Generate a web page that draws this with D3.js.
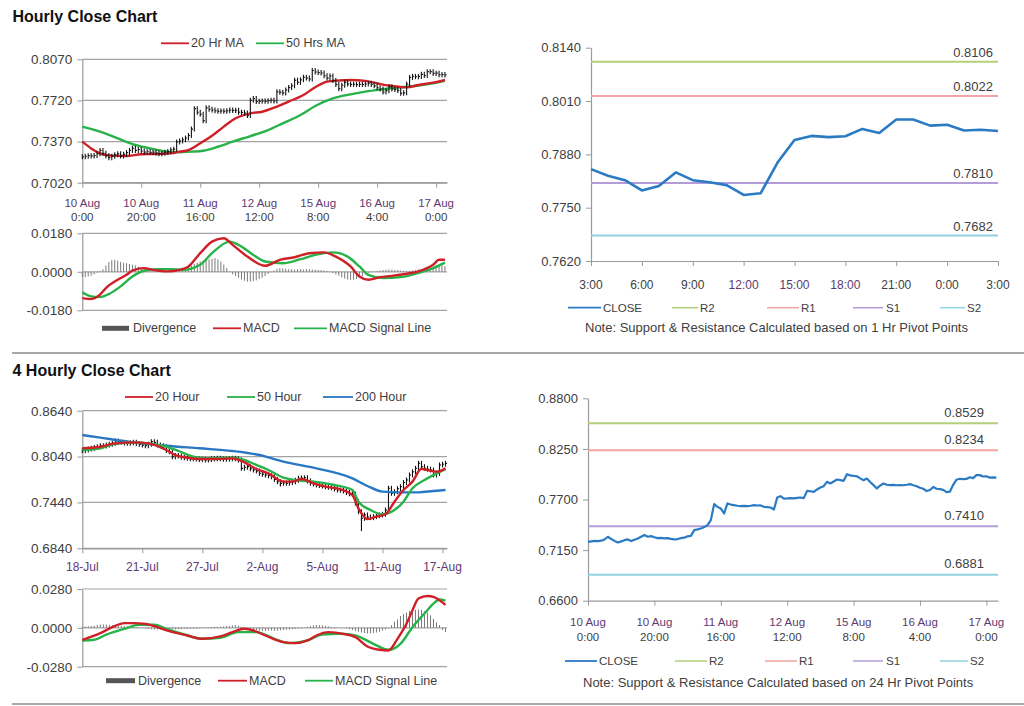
<!DOCTYPE html>
<html><head><meta charset="utf-8">
<script src="https://cdn.jsdelivr.net/npm/d3@7"></script>
<style>
body{margin:0;background:#fff;}
svg{display:block;font-family:"Liberation Sans",Arial,sans-serif;}
</style></head><body>
<svg id="c" width="1024" height="706"></svg>
<script>
// ---------------- DATA ----------------
// Hourly closes, 10 Aug 0:00 -> 17 Aug 3:00 (124 bars)
const hourlyClose = [
0.7240,0.7245,0.7250,0.7248,0.7252,0.7266,0.7295,0.7270,0.7250,0.7233,
0.7245,0.7258,0.7266,0.7248,0.7262,0.7276,0.7295,0.7313,0.7295,0.7302,
0.7290,0.7280,0.7283,0.7278,0.7280,0.7272,0.7266,0.7270,0.7280,0.7285,
0.7300,0.7305,0.7367,0.7375,0.7385,0.7400,0.7421,0.7476,0.7650,0.7620,
0.7602,0.7548,0.7657,0.7645,0.7638,0.7632,0.7628,0.7630,0.7628,0.7632,
0.7638,0.7635,0.7636,0.7620,0.7618,0.7613,0.7591,0.7722,0.7736,0.7710,
0.7712,0.7715,0.7712,0.7718,0.7722,0.7715,0.7794,0.7790,0.7783,0.7809,
0.7830,0.7845,0.7892,0.7874,0.7895,0.7917,0.7910,0.7903,0.7975,0.7962,
0.7957,0.7953,0.7930,0.7910,0.7928,0.7890,0.7856,0.7820,0.7850,0.7874,
0.7860,0.7856,0.7858,0.7855,0.7857,0.7855,0.7860,0.7867,0.7855,
0.7844,0.7828,0.7817,0.7792,0.7803,0.7836,0.7817,0.7812,0.7805,0.7781,
0.7785,0.7860,0.7915,0.7925,0.7922,0.7924,0.7942,0.7932,0.7965,0.7965,
0.7950,0.7952,0.7938,0.7940,0.7937];
const hourlyTickIdx = [0,20,40,60,80,100,120];
const hourlyTickDates = ["10 Aug","10 Aug","11 Aug","12 Aug","15 Aug","16 Aug","17 Aug"];
const hourlyTickTimes = ["0:00","20:00","16:00","12:00","8:00","4:00","0:00"];
const hourlyPriceTicks = [0.7020,0.7370,0.7720,0.8070];
const ma20Hr = [[0,0.7369],[3,0.7312],[6,0.7270],[10,0.7250],[15,0.7247],[20,0.7262],[25,0.7264],[30,0.7270],[33,0.7284],[36,0.7298],[40,0.7355],[44,0.7420],[48,0.7497],[52,0.7568],[57,0.7610],[61,0.7624],[66,0.7667],[70,0.7710],[75,0.7766],[79,0.7832],[83,0.7880],[87,0.7890],[91,0.7894],[96,0.7886],[101,0.7860],[105,0.7843],[110,0.7832],[114,0.7851],[119,0.7871],[123,0.7894]];
const ma50Hr = [[0,0.7497],[6,0.7454],[12,0.7397],[17,0.7349],[23,0.7312],[29,0.7284],[33,0.7278],[37,0.7284],[41,0.7292],[46,0.7326],[51,0.7369],[57,0.7417],[63,0.7468],[68,0.7525],[74,0.7596],[79,0.7673],[85,0.7738],[91,0.7772],[96,0.7795],[102,0.7815],[108,0.7832],[113,0.7843],[119,0.7866],[123,0.7886]];
const macdHr = [[0,-0.0123],[3,-0.0127],[6,-0.0107],[8,-0.0076],[12,-0.0037],[15,-0.0014],[17,0.0006],[21,0.0017],[24,0.0009],[29,0.0002],[33,0.0009],[36,0.0025],[40,0.0087],[44,0.0141],[48,0.0157],[51,0.0126],[56,0.0071],[62,0.0028],[67,0.0056],[72,0.0068],[77,0.0087],[82,0.0091],[86,0.0071],[91,0.0025],[94,-0.0022],[97,-0.0037],[101,-0.0025],[105,-0.0019],[110,-0.0009],[114,0.0002],[119,0.0033],[121,0.0056],[123,0.0056]];
const signalHr = [[0,-0.0096],[3,-0.0115],[6,-0.0118],[9,-0.0104],[13,-0.0068],[17,-0.0022],[21,0.0005],[25,0.0012],[30,0.0012],[34,0.0009],[40,0.0033],[44,0.0087],[50,0.0141],[53,0.0126],[58,0.0079],[62,0.0048],[68,0.0040],[74,0.0059],[79,0.0079],[85,0.0091],[90,0.0071],[94,0.0025],[97,-0.0014],[102,-0.0029],[108,-0.0025],[113,-0.0009],[119,0.0017],[123,0.0043]];
const divergenceHr = [
-0.0025,-0.0025,-0.0022,-0.0018,-0.0012,-0.0004,0.0004,0.0012,
0.0030,0.0045,0.0055,0.0056,0.0052,0.0046,0.0042,0.0040,0.0036,0.0033,0.0030,
0.0024,0.0018,0.0015,0.0012,0.0010,0.0009,0.0008,0.0006,0.0005,0.0004,0.0003,
0.0003,0.0004,0.0006,0.0012,0.0018,0.0022,0.0026,0.0030,
0.0036,0.0042,0.0048,0.0052,0.0056,0.0058,0.0060,0.0064,0.0058,0.0048,0.0034,0.0018,
0.0002,-0.0012,-0.0020,-0.0028,-0.0036,-0.0042,-0.0046,-0.0046,-0.0044,-0.0040,
-0.0034,-0.0028,-0.0020,-0.0010,-0.0002,0.0006,0.0014,0.0017,0.0016,0.0014,0.0012,
0.0012,0.0011,0.0012,0.0012,0.0011,0.0012,0.0012,0.0011,0.0010,0.0009,0.0008,0.0006,0.0004,
0.0001,-0.0006,-0.0012,-0.0018,-0.0026,-0.0032,-0.0036,-0.0038,-0.0037,-0.0034,-0.0028,-0.0020,
-0.0012,-0.0006,-0.0002,0.0002,0.0004,0.0006,0.0008,0.0010,0.0011,0.0010,0.0009,0.0008,
0.0006,0.0005,0.0004,0.0005,0.0007,0.0009,0.0011,0.0013,0.0015,0.0017,0.0018,0.0020,
0.0024,0.0028,0.0030,0.0026];
const macdHrTicks = [-0.018,0,0.018];

// Last 24 hours (3:00 -> 3:00) used by the 1 Hr pivot chart
const lastDayStart = 99;
const lastDayTickIdx = [0,3,6,9,12,15,18,21,24];
const lastDayTickLabels = ["3:00","6:00","9:00","12:00","15:00","18:00","21:00","0:00","3:00"];
const lastDayPriceTicks = [0.7620,0.7750,0.7880,0.8010,0.8140];
const pivotNames = ["R2","R1","S1","S2"];
const pivot1Hr = [0.8106,0.8022,0.7810,0.7682];
const pivot24Hr = [0.8529,0.8234,0.7410,0.6881];
const pivot24PriceTicks = [0.6600,0.7150,0.7700,0.8250,0.8800];

// 4-hourly closes (122 bars)
const fourHourClose = [
0.8117,0.8125,0.8140,0.8148,0.8160,0.8170,0.8183,0.8178,0.8190,0.8200,
0.8215,0.8243,0.8230,0.8226,0.8218,0.8213,0.8220,0.8226,0.8210,0.8200,
0.8190,0.8183,0.8200,0.8235,0.8226,0.8191,0.8180,0.8169,0.8120,0.8104,
0.8039,0.8055,0.8047,0.8030,0.8025,0.8017,0.8010,0.8015,0.8008,0.8000,
0.8005,0.7995,0.8000,0.8010,0.8012,0.8017,0.8010,0.8005,0.8008,0.8012,
0.8017,0.8010,0.7995,0.7886,0.7900,0.7908,0.7880,0.7864,0.7850,0.7821,
0.7810,0.7799,0.7790,0.7777,0.7740,0.7710,0.7690,0.7695,0.7690,0.7700,
0.7712,0.7730,0.7755,0.7760,0.7764,0.7720,0.7690,0.7680,0.7668,0.7660,
0.7655,0.7645,0.7640,0.7633,0.7615,0.7603,0.7598,0.7590,0.7570,0.7555,
0.7546,0.7450,0.7319,0.7232,0.7276,0.7250,0.7241,0.7255,0.7267,0.7275,
0.7285,0.7341,0.7625,0.7560,0.7581,0.7620,0.7646,0.7700,0.7734,0.7799,
0.7840,0.7886,0.7951,0.7908,0.7886,0.7875,0.7864,0.7799,0.7821,0.7930,
0.7940,0.7951];
const fourHourSpikeLows = [[93,0.7065],[66,0.7650],[91,0.7400]];
const fourHourTickIdx = [0,20,40,60,80,100,120];
const fourHourTickLabels = ["18-Jul","21-Jul","27-Jul","2-Aug","5-Aug","11-Aug","17-Aug"];
const fourHourPriceTicks = [0.6840,0.7440,0.8040,0.8640];
const ma20Hour = [[0,0.8148],[6,0.8169],[11,0.8213],[17,0.8226],[22,0.8213],[28,0.8126],[31,0.8060],[35,0.8026],[39,0.8008],[45,0.8008],[50,0.8017],[54,0.7965],[58,0.7877],[62,0.7821],[67,0.7712],[70,0.7712],[73,0.7747],[77,0.7690],[81,0.7646],[86,0.7612],[90,0.7537],[92,0.7363],[95,0.7224],[98,0.7254],[101,0.7285],[104,0.7450],[107,0.7603],[110,0.7712],[113,0.7880],[115,0.7864],[118,0.7842],[121,0.7886]];
const ma50Hour = [[0,0.8126],[6,0.8148],[10,0.8200],[17,0.8226],[22,0.8213],[28,0.8169],[32,0.8113],[37,0.8039],[41,0.8017],[50,0.8026],[54,0.7995],[58,0.7930],[62,0.7864],[67,0.7764],[71,0.7734],[77,0.7712],[84,0.7668],[90,0.7603],[92,0.7450],[96,0.7341],[100,0.7285],[104,0.7341],[107,0.7450],[110,0.7625],[114,0.7734],[117,0.7799],[121,0.7877]];
const ma200Hour = [[0,0.8322],[6,0.8287],[17,0.8226],[28,0.8182],[39,0.8148],[50,0.8113],[59,0.8060],[67,0.7973],[78,0.7886],[90,0.7755],[95,0.7655],[100,0.7581],[106,0.7572],[112,0.7572],[117,0.7590],[121,0.7603]];
const macd4H = [[0,-0.0086],[6,-0.0038],[10,0.0005],[14,0.0034],[17,0.0034],[21,0.0029],[25,0.0005],[29,-0.0024],[35,-0.0055],[40,-0.0079],[46,-0.0062],[50,-0.0031],[54,-0.0007],[57,-0.0019],[61,-0.0055],[67,-0.0103],[71,-0.0110],[75,-0.0091],[78,-0.0055],[82,-0.0031],[87,-0.0043],[91,-0.0067],[95,-0.0134],[99,-0.0158],[102,-0.0163],[105,-0.0079],[108,0.0029],[110,0.0127],[112,0.0211],[115,0.0230],[117,0.0223],[119,0.0199],[121,0.0165]];
const signal4H = [[0,-0.0091],[4,-0.0086],[8,-0.0048],[14,-0.0007],[19,0.0022],[24,0.0022],[28,-0.0007],[34,-0.0048],[40,-0.0079],[46,-0.0072],[52,-0.0031],[58,-0.0031],[64,-0.0079],[69,-0.0110],[75,-0.0091],[80,-0.0048],[86,-0.0043],[91,-0.0055],[97,-0.0115],[102,-0.0158],[106,-0.0115],[110,0.0005],[114,0.0103],[117,0.0175],[119,0.0204],[121,0.0196]];
const divergence4H = [
0.0010,0.0010,0.0012,0.0014,0.0016,
0.0020,0.0024,0.0025,0.0024,0.0022,0.0020,
0.0018,0.0017,0.0016,0.0014,0.0012,0.0010,
0.0006,0.0004,0.0002,0.0000,-0.0004,
-0.0008,-0.0010,-0.0012,-0.0012,-0.0013,-0.0012,-0.0012,-0.0011,-0.0012,-0.0011,-0.0010,-0.0010,-0.0008,-0.0008,
-0.0007,-0.0006,-0.0005,-0.0004,-0.0002,0.0002,
0.0004,0.0006,0.0008,0.0008,0.0009,0.0010,0.0012,0.0014,0.0018,0.0020,0.0016,
0.0008,0.0002,-0.0004,-0.0010,-0.0014,
-0.0018,-0.0020,-0.0022,-0.0022,-0.0020,-0.0020,-0.0022,-0.0020,-0.0018,-0.0016,-0.0014,-0.0012,-0.0010,-0.0008,-0.0006,-0.0004,
0.0002,0.0008,0.0014,0.0018,0.0020,0.0020,0.0018,0.0014,0.0010,
0.0006,0.0004,0.0002,0.0001,0.0000,-0.0004,-0.0010,
-0.0016,-0.0022,-0.0028,-0.0034,-0.0038,-0.0040,-0.0040,-0.0038,-0.0034,-0.0028,-0.0020,-0.0012,
-0.0004,0.0020,0.0045,0.0060,0.0085,0.0100,0.0110,
0.0122,0.0128,0.0130,0.0132,0.0130,0.0120,0.0110,0.0090,
0.0065,0.0040,0.0020,-0.0015,-0.0030];
const macd4HTicks = [-0.028,0,0.028];

// ---------------- STYLE ----------------
const C = {red:"#cf2027", green:"#27b24a", blue:"#2878c4", grid:"#a3a3a3", axis:"#9a9a9a",
  text:"#404040", date:"#5e3a70", close:"#2a7ac4", div:"#7a7a7a",
  R2:"#b2d07a", R1:"#f2a3a3", S1:"#b49cd8", S2:"#90d2e2"};
const pivotColors = [C.R2, C.R1, C.S1, C.S2];
const svg = d3.select("#c");
const fmt4 = d => d.toFixed(4);

function styleAxis(g, fs){
  g.select(".domain").attr("stroke", C.axis).attr("stroke-width",1.2);
  g.selectAll(".tick line").attr("stroke", C.axis);
  g.selectAll(".tick text").attr("fill", C.text).style("font-size", fs+"px")
    .style("font-family","'Liberation Sans',Arial,sans-serif");
}
function grid(g, x, y, ticks){
  g.append("g").selectAll("line").data(ticks).join("line")
    .attr("x1", x.range()[0]).attr("x2", x.range()[1])
    .attr("y1", d=>y(d)).attr("y2", d=>y(d))
    .attr("stroke", C.grid).attr("stroke-width",1.2);
}
function yAxisLeft(g, x, y, ticks, fs){
  const a = g.append("g").attr("transform",`translate(${x.range()[0]},0)`)
    .call(d3.axisLeft(y).tickValues(ticks).tickFormat(fmt4).tickSize(5).tickSizeOuter(0).tickPadding(5));
  styleAxis(a, fs);
  return a;
}
function xAxisTicks(g, x, yPos, ticks){
  const a = g.append("g").attr("transform",`translate(0,${yPos})`)
    .call(d3.axisBottom(x).tickValues(ticks).tickFormat("").tickSize(5).tickSizeOuter(0));
  styleAxis(a, 11);
  return a;
}
function twoLineLabels(g, x, ticks, l1, l2, y1, y2){
  const t = g.append("g").selectAll("text").data(ticks).join("text")
    .attr("text-anchor","middle").style("font-size","11.5px");
  t.append("tspan").attr("x", d=>x(d)).attr("y", y1).attr("fill", C.date).text((d,i)=>l1[i]);
  t.append("tspan").attr("x", d=>x(d)).attr("y", y2).attr("fill", C.text).text((d,i)=>l2[i]);
}
function pairLine(g, x, y, data, color, w){
  g.append("path").datum(data).attr("fill","none").attr("stroke",color).attr("stroke-width",w)
    .attr("stroke-linejoin","round")
    .attr("d", d3.line().x(d=>x(d[0])).y(d=>y(d[1])).curve(d3.curveMonotoneX));
}
function ohlc(g, x, y, closes){
  const bars = closes.map((c,i)=>({i, o: i>0?closes[i-1]:c, c}));
  g.append("g").selectAll("line").data(bars).join("line")
    .attr("x1", d=>x(d.i)).attr("x2", d=>x(d.i))
    .attr("y1", d=>y(Math.max(d.o,d.c))-2.5).attr("y2", d=>y(Math.min(d.o,d.c))+2.5)
    .attr("stroke","#111").attr("stroke-width",1.1);
  g.append("g").selectAll("line").data(bars).join("line")
    .attr("x1", d=>x(d.i)).attr("x2", d=>x(d.i)+1.6)
    .attr("y1", d=>y(d.c)).attr("y2", d=>y(d.c))
    .attr("stroke","#111").attr("stroke-width",1.1);
}
function divBars(g, x, y, vals){
  g.append("g").selectAll("line").data(vals).join("line")
    .attr("x1",(d,i)=>x(i)).attr("x2",(d,i)=>x(i))
    .attr("y1", y(0)).attr("y2", d=>y(d))
    .attr("stroke", C.div).attr("stroke-width",1);
}
function legendLine(g, x1, x2, y, color, label, w, tx, fs){
  g.append("line").attr("x1",x1).attr("x2",x2).attr("y1",y).attr("y2",y).attr("stroke",color).attr("stroke-width",w);
  g.append("text").attr("x",tx).attr("y",y+4).attr("fill",C.text).style("font-size",fs+"px").text(label);
}
function legendSwatch(g, x1, x2, y, label, tx, fs){
  g.append("rect").attr("x",x1).attr("y",y-2.5).attr("width",x2-x1).attr("height",5).attr("fill","#555");
  g.append("text").attr("x",tx).attr("y",y+4).attr("fill",C.text).style("font-size",fs+"px").text(label);
}

// ---------------- TITLES & SEPARATORS ----------------
svg.append("text").attr("x",12.5).attr("y",22).style("font-size","16px").style("font-weight","bold").attr("fill","#111").text("Hourly Close Chart");
svg.append("text").attr("x",12.5).attr("y",376).style("font-size","16px").style("font-weight","bold").attr("fill","#111").text("4 Hourly Close Chart");
svg.append("rect").attr("x",12).attr("y",352).attr("width",1012).attr("height",2).attr("fill","#a8a8a8");
svg.append("rect").attr("x",12).attr("y",703).attr("width",1012).attr("height",2).attr("fill","#a8a8a8");

// ---------------- HOURLY PRICE ----------------
{
  const g = svg.append("g");
  const x = d3.scaleLinear().domain([0,123.7]).range([82.3,447]);
  const y = d3.scaleLinear().domain([0.7020,0.8070]).range([182.7,59.3]);
  grid(g, x, y, hourlyPriceTicks);
  yAxisLeft(g, x, y, hourlyPriceTicks, 13.5);
  xAxisTicks(g, x, y(0.7020), hourlyTickIdx);
  twoLineLabels(g, x, hourlyTickIdx, hourlyTickDates, hourlyTickTimes, 206.5, 221);
  pairLine(g, x, y, ma50Hr, C.green, 2.4);
  pairLine(g, x, y, ma20Hr, C.red, 2.4);
  ohlc(g, x, y, hourlyClose);
  legendLine(g, 161, 189, 43.3, C.red, "20 Hr MA", 1.8, 191, 12.5);
  legendLine(g, 256, 284, 43.3, C.green, "50 Hrs MA", 1.8, 286, 12.5);
}
// ---------------- HOURLY MACD ----------------
{
  const g = svg.append("g");
  const x = d3.scaleLinear().domain([0,123.7]).range([82.3,447]);
  const y = d3.scaleLinear().domain([-0.018,0.018]).range([310.3,233.3]);
  grid(g, x, y, macdHrTicks);
  yAxisLeft(g, x, y, macdHrTicks, 13.5);
  divBars(g, x, y, divergenceHr);
  pairLine(g, x, y, signalHr, C.green, 2.4);
  pairLine(g, x, y, macdHr, C.red, 2.4);
  legendSwatch(g, 102, 129, 328.3, "Divergence", 133, 12.5);
  legendLine(g, 213, 241, 328.3, C.red, "MACD", 1.8, 243, 12.5);
  legendLine(g, 294, 327, 328.3, C.green, "MACD  Signal Line", 1.8, 329, 12.5);
}
// ---------------- 1 HR PIVOT ----------------
{
  const g = svg.append("g");
  const lastDay = hourlyClose.slice(lastDayStart);
  const x = d3.scaleLinear().domain([0,24]).range([591,998]);
  const y = d3.scaleLinear().domain([0.7620,0.8140]).range([261,47.7]);
  yAxisLeft(g, x, y, lastDayPriceTicks, 13);
  xAxisTicks(g, x, 261, lastDayTickIdx);
  g.append("g").selectAll("text").data(lastDayTickIdx).join("text")
    .attr("x", d=>x(d)).attr("y", 288.5).attr("text-anchor","middle").style("font-size","12px")
    .attr("fill", (d,i)=> (i>=3 && i<=5) ? C.date : C.text).text((d,i)=>lastDayTickLabels[i]);
  g.append("g").selectAll("line").data(pivot1Hr).join("line")
    .attr("x1", x(0)).attr("x2", x(24)).attr("y1", d=>y(d)).attr("y2", d=>y(d))
    .attr("stroke", (d,i)=>pivotColors[i]).attr("stroke-width",2);
  g.append("g").selectAll("text").data(pivot1Hr).join("text")
    .attr("x", 993).attr("y", d=>y(d)-5).attr("text-anchor","end").style("font-size","13px")
    .attr("fill", C.text).text(d=>d.toFixed(4));
  g.append("path").datum(lastDay).attr("fill","none").attr("stroke",C.close).attr("stroke-width",2.6)
    .attr("stroke-linejoin","round").attr("d", d3.line().x((d,i)=>x(i)).y(d=>y(d)));
  const ly = 307.7;
  legendLine(g, 568, 601, ly, C.close, "CLOSE", 1.8, 603, 11.5);
  const lx = [[672,698,700],[767,799,801],[853,883,886],[940,965,967]];
  pivotNames.forEach((n,i)=>legendLine(g, lx[i][0], lx[i][1], ly, pivotColors[i], n, 1.5, lx[i][2], 11.5));
  g.append("text").attr("x",585).attr("y",331.7).attr("fill",C.text).style("font-size","13px")
    .text("Note: Support & Resistance Calculated based on 1 Hr Pivot Points");
}
// ---------------- 4 HOURLY PRICE ----------------
{
  const g = svg.append("g");
  const x = d3.scaleLinear().domain([0,121.5]).range([82.3,447]);
  const y = d3.scaleLinear().domain([0.6840,0.8640]).range([548.3,410.7]);
  grid(g, x, y, fourHourPriceTicks);
  yAxisLeft(g, x, y, fourHourPriceTicks, 13.5);
  xAxisTicks(g, x, y(0.6840), fourHourTickIdx);
  g.append("g").selectAll("text").data(fourHourTickIdx).join("text")
    .attr("x", d=>x(d)).attr("y", 570.5).attr("text-anchor","middle").style("font-size","12px")
    .attr("fill", C.date).text((d,i)=>fourHourTickLabels[i]);
  ohlc(g, x, y, fourHourClose);
  g.append("g").selectAll("line").data(fourHourSpikeLows).join("line")
    .attr("x1", d=>x(d[0])).attr("x2", d=>x(d[0]))
    .attr("y1", d=>y(fourHourClose[d[0]])).attr("y2", d=>y(d[1]))
    .attr("stroke","#111").attr("stroke-width",1.1);
  pairLine(g, x, y, ma200Hour, C.blue, 2.4);
  pairLine(g, x, y, ma50Hour, C.green, 2.4);
  pairLine(g, x, y, ma20Hour, C.red, 2.4);
  legendLine(g, 125, 153, 397, C.red, "20 Hour", 1.8, 155, 12.5);
  legendLine(g, 227, 255, 397, C.green, "50 Hour", 1.8, 257, 12.5);
  legendLine(g, 323, 353, 397, C.blue, "200 Hour", 1.8, 355, 12.5);
}
// ---------------- 4 HOURLY MACD ----------------
{
  const g = svg.append("g");
  const x = d3.scaleLinear().domain([0,121.5]).range([82.3,447]);
  const y = d3.scaleLinear().domain([-0.028,0.028]).range([666.7,589]);
  grid(g, x, y, macd4HTicks);
  yAxisLeft(g, x, y, macd4HTicks, 13.5);
  divBars(g, x, y, divergence4H);
  pairLine(g, x, y, signal4H, C.green, 2.4);
  pairLine(g, x, y, macd4H, C.red, 2.4);
  legendSwatch(g, 106, 135, 680.7, "Divergence", 138, 12.5);
  legendLine(g, 218, 247, 680.7, C.red, "MACD", 1.8, 249, 12.5);
  legendLine(g, 305, 333, 680.7, C.green, "MACD  Signal Line", 1.8, 335, 12.5);
}
// ---------------- 24 HR PIVOT ----------------
{
  const g = svg.append("g");
  const x = d3.scaleLinear().domain([0,123.5]).range([588,998]);
  const y = d3.scaleLinear().domain([0.66,0.88]).range([600.7,398.3]);
  yAxisLeft(g, x, y, pivot24PriceTicks, 13);
  xAxisTicks(g, x, 600.7, hourlyTickIdx);
  twoLineLabels(g, x, hourlyTickIdx, hourlyTickDates, hourlyTickTimes, 625.5, 640.5);
  g.append("g").selectAll("line").data(pivot24Hr).join("line")
    .attr("x1", x(0)).attr("x2", 998).attr("y1", d=>y(d)).attr("y2", d=>y(d))
    .attr("stroke", (d,i)=>pivotColors[i]).attr("stroke-width",2);
  g.append("g").selectAll("text").data(pivot24Hr).join("text")
    .attr("x", 984).attr("y", d=>y(d)-6.5).attr("text-anchor","end").style("font-size","13px")
    .attr("fill", C.text).text(d=>d.toFixed(4));
  g.append("path").datum(hourlyClose).attr("fill","none").attr("stroke",C.close).attr("stroke-width",2.2)
    .attr("stroke-linejoin","round").attr("d", d3.line().x((d,i)=>x(i)).y(d=>y(d)));
  const ly = 661;
  legendLine(g, 565, 597, ly, C.close, "CLOSE", 1.8, 599, 11.5);
  const lx = [[675,707,709],[765,797,799],[853,883,886],[940,968,970]];
  pivotNames.forEach((n,i)=>legendLine(g, lx[i][0], lx[i][1], ly, pivotColors[i], n, 1.5, lx[i][2], 11.5));
  g.append("text").attr("x",583).attr("y",686.7).attr("fill",C.text).style("font-size","13px")
    .text("Note: Support & Resistance Calculated based on 24 Hr Pivot Points");
}
</script>
</body></html>
